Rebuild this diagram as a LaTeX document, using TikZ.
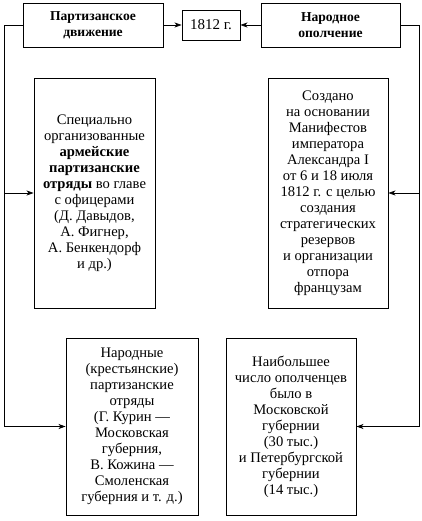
\documentclass[tikz,border=0pt]{standalone}
\usepackage{fontspec}
\setmainfont{Liberation Serif}
\usetikzlibrary{positioning,arrows.meta}
\tikzset{>={Stealth[length=7pt, width=5pt, inset=2pt]}}
\tikzstyle{head}   = [rectangle, black, draw, line width=0.9pt, minimum width=140pt, minimum height=44pt, text centered, align=center, font=\fontsize{13.6}{15.8}\selectfont\bfseries]
\tikzstyle{datebox}= [rectangle, black, draw, line width=0.9pt, minimum width=58pt, minimum height=30pt, text centered, font=\fontsize{15}{16}\selectfont]
\tikzstyle{info}   = [rectangle, black, draw, line width=0.9pt, minimum width=121pt, minimum height=230pt, text centered, align=center, inner sep=2pt, font=\fontsize{14.6}{16}\selectfont]
\tikzstyle{link}   = [black, line width=0.7pt]

\begin{document}
\begin{tikzpicture}[x=1pt, y=-1pt]
      \useasboundingbox (0,0) rectangle (421,521);
      \node[head] (pd) at (93,25) {Партизанское\\движение};
      \node[datebox] (date) at (211,25) {1812 г.};
      \node[head, minimum width=139pt] (no) at (330.5,25) {Народное\\ополчение};
      \node[info] (army) at (94.5,193) {Специально\\организованные\\\textbf{армейские}\\\textbf{партизанские}\\\textbf{отряды} во главе\\с офицерами\\(Д. Давыдов,\\А. Фигнер,\\А. Бенкендорф\\и др.)};
      \node[info, minimum width=120pt] (manif) at (328,193) {Создано\\на основании\\Манифестов\\императора\\Александра I\\от 6 и 18 июля\\1812 г. с целью\\создания\\стратегических\\резервов\\и организации\\отпора\\французам};
      \node[info, minimum width=132pt, minimum height=177pt] (peas) at (132,426.5) {Народные\\(крестьянские)\\партизанские\\отряды\\(Г. Курин —\\Московская\\губерния,\\В. Кожина —\\Смоленская\\губерния и т. д.)};
      \node[info, minimum width=130pt, minimum height=177pt] (gub) at (291,426.5) {Наибольшее\\число ополченцев\\было в\\Московской\\губернии\\(30 тыс.)\\и Петербургской\\губернии\\(14 тыс.)};
      \coordinate (lbend) at (4,25);
      \coordinate (rbend) at (419,25);
      \draw[link, ->] (pd) -- (date);
      \draw[link, ->] (no) -- (date);
      \draw[link, ->] (pd.west) -- (lbend) |- (peas.west);
      \draw[link, ->] (lbend |- army.west) -- (army.west);
      \draw[link, ->] (no.east) -- (rbend) |- (gub.east);
      \draw[link, ->] (rbend |- manif.east) -- (manif.east);
    \end{tikzpicture}
\end{document}
